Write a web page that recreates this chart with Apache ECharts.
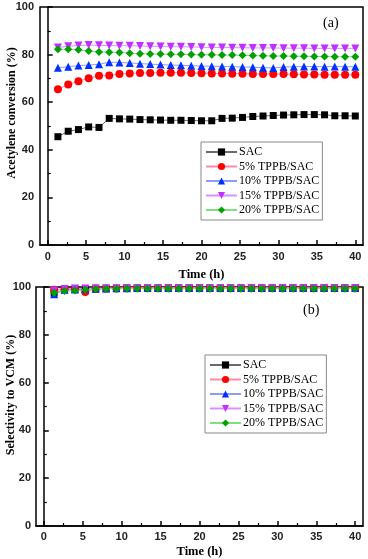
<!DOCTYPE html>
<html><head><meta charset="utf-8">
<script src="https://cdn.jsdelivr.net/npm/echarts@6/dist/echarts.min.js"></script>
<style>html,body{margin:0;padding:0;background:#fff}#c{width:368px;height:559px}</style>
</head><body><div id="c"></div>
<script>
const times = [1.33,2.67,4,5.33,6.67,8,9.33,10.67,12,13.33,14.67,16,17.33,18.67,20,21.33,22.67,24,25.33,26.67,28,29.33,30.67,32,33.33,34.67,36,37.33,38.67,40];
const seriesNames = ['SAC','5% TPPB/SAC','10% TPPB/SAC','15% TPPB/SAC','20% TPPB/SAC'];
// (a) Acetylene conversion (%)
const convSAC = [45.5,47.8,48.5,49.6,49.4,53.2,53.0,52.9,52.7,52.6,52.5,52.4,52.4,52.3,52.2,52.2,53.2,53.3,53.6,54.0,54.2,54.4,54.6,54.7,54.8,54.8,54.7,54.3,54.3,54.2];
const conv5 = [65.4,67.4,68.8,70.1,71.1,71.2,71.8,72.1,72.3,72.3,72.4,72.4,72.4,72.3,72.2,72.1,72.1,72.0,72.0,71.9,71.9,71.8,71.8,71.7,71.6,71.6,71.5,71.5,71.5,71.5];
const conv10 = [74.5,74.9,75.4,75.6,75.9,76.8,76.7,76.5,76.2,76.0,75.8,75.6,75.5,75.3,75.2,75.1,75.0,74.9,74.8,74.7,74.5,74.4,74.8,74.9,75.0,75.0,74.9,75.0,74.9,74.9];
const conv15 = [83.0,83.5,83.8,84.0,83.9,83.8,83.7,83.7,83.6,83.5,83.4,83.3,83.3,83.2,83.1,83.0,83.0,82.9,82.9,82.8,82.8,82.8,82.7,82.7,82.7,82.6,82.6,82.6,82.6,82.6];
const conv20 = [82.2,82.2,82.0,81.5,81.1,81.0,80.9,80.6,80.4,80.3,80.2,80.1,80.1,80.0,79.9,79.9,79.8,79.8,79.7,79.6,79.5,79.4,79.4,79.3,79.3,79.2,79.2,79.1,79.1,79.1];
// (b) Selectivity to VCM (%)
const selSAC = [97.5,98.8,99.0,99.0,99.2,99.3,99.4,99.4,99.5,99.5,99.5,99.5,99.5,99.5,99.5,99.5,99.5,99.5,99.5,99.5,99.5,99.5,99.5,99.5,99.5,99.5,99.5,99.5,99.5,99.5];
const sel5 = [98.9,99.2,99.2,97.9,99.3,99.4,99.4,99.5,99.5,99.5,99.5,99.5,99.5,99.5,99.5,99.5,99.5,99.5,99.5,99.5,99.5,99.5,99.5,99.5,99.5,99.5,99.5,99.5,99.5,99.5];
const sel10 = [97.0,98.8,99.0,99.2,99.3,99.4,99.5,99.5,99.6,99.6,99.6,99.6,99.6,99.6,99.6,99.6,99.6,99.6,99.6,99.6,99.6,99.6,99.6,99.6,99.6,99.6,99.6,99.6,99.6,99.6];
const sel15 = [98.5,99.2,99.4,99.4,99.5,99.5,99.5,99.6,99.6,99.6,99.6,99.6,99.6,99.6,99.6,99.6,99.6,99.6,99.6,99.6,99.6,99.6,99.6,99.6,99.6,99.6,99.6,99.6,99.6,99.6];
const sel20 = [97.6,98.3,98.5,98.8,99.2,99.3,99.3,99.4,99.4,99.4,99.4,99.4,99.4,99.4,99.4,99.4,99.4,99.4,99.4,99.4,99.4,99.4,99.4,99.4,99.4,99.4,99.4,99.4,99.4,99.4];
const xTicks = [0,5,10,15,20,25,30,35,40];
const xMinorTicks = [2.5,7.5,12.5,17.5,22.5,27.5,32.5,37.5];

const markColors = ['#000000','#ff0000','#0030ff','#c030ff','#00a000'];
const lineColors = ['#6a6a6a','#ff8aa8','#8a9aff','#d890ff','#80e080'];
const symbols = ['rect','circle','triangle','path://M0,0 L10,0 L5,9 Z','diamond'];
const symSizes = [7,8,8,8,8];

const chart = echarts.init(document.getElementById('c'), null, {renderer:'canvas'});
const tickFont = {fontFamily:'Liberation Sans', fontWeight:'bold', fontSize:11, color:'#222'};
const titleFont = {fontFamily:'Liberation Serif', fontWeight:'bold', fontSize:12.5, color:'#000'};

function xAxis(gi, gap, margin){
  return {type:'value', gridIndex:gi, min:-1, max:41,
    name:'Time (h)', nameLocation:'middle', nameGap:gap, nameTextStyle:titleFont,
    axisLine:{show:true, onZero:false, lineStyle:{color:'#000', width:1.5}},
    axisTick:{show:true, inside:true, length:5, customValues:xTicks, lineStyle:{color:'#000', width:1.5}},
    axisLabel:Object.assign({margin:margin, customValues: xTicks}, tickFont),
    splitLine:{show:false}};
}
function xMinor(gi){
  return {type:'value', gridIndex:gi, min:-1, max:41, position:'bottom',
    axisLine:{show:false},
    axisTick:{show:true, inside:true, length:3, customValues:xMinorTicks, lineStyle:{color:'#000', width:1.2}},
    axisLabel:{show:false}, splitLine:{show:false}};
}
function yAxis(gi, margin){
  return {type:'value', gridIndex:gi, min:0, max:100, interval:20,
    axisLine:{show:true, lineStyle:{color:'#000', width:1.5}},
    axisTick:{show:true, inside:true, length:5, lineStyle:{color:'#000', width:1.5}},
    minorTick:{show:true, splitNumber:2, length:3, lineStyle:{color:'#000', width:1.2}},
    axisLabel:Object.assign({margin:margin}, tickFont),
    splitLine:{show:false}};
}
function mk(name, data, i, gi){
  return {name:name, type:'line', xAxisIndex:gi*2, yAxisIndex:gi,
    data: times.map((t,j)=>[t, data[j]]),
    symbol: symbols[i], symbolSize: symSizes[i],
    itemStyle:{color:markColors[i]}, lineStyle:{color:lineColors[i], width:1},
    showSymbol:true, animation:false, z: 2 + (i===4?1:0)};
}
const convData = [convSAC, conv5, conv10, conv15, conv20];
const selData = [selSAC, sel5, sel10, sel15, sel20];
const series = [];
seriesNames.forEach((n,i)=>series.push(mk(n, convData[i], i, 0)));
seriesNames.forEach((n,i)=>series.push(mk(n, selData[i], i, 1)));

function legend(left, top){
  return {orient:'vertical', left:left, top:top, itemWidth:31, itemHeight:9, itemGap:2.5,
    padding:[4,3,4,4], borderColor:'#888', borderWidth:1,
    textStyle:{fontFamily:'Liberation Serif', fontSize:12, lineHeight:12, color:'#000', padding:[0,0,0,-3]},
    data: seriesNames.map(n=>({name:n})) };
}
chart.setOption({
  animation:false,
  backgroundColor:'#fff',
  grid:[
    {left:40, top:7, right:5, height:238, show:true, borderColor:'#000', borderWidth:1.5},
    {left:36, top:287, right:5, height:241, show:true, borderColor:'#000', borderWidth:1.5}
  ],
  xAxis:[xAxis(0, 23, 6), xMinor(0), xAxis(1, 19, 5), xMinor(1)],
  yAxis:[yAxis(0,6), yAxis(1,5)],
  legend:[legend(201,142), legend(205,355)],
  series: series,
  graphic:[
    {type:'text', left:323, top:16, style:{text:'(a)', font:'14px "Liberation Serif"', fill:'#000'}},
    {type:'text', left:303, top:303, style:{text:'(b)', font:'14px "Liberation Serif"', fill:'#000'}},
    {type:'text', x:12, y:113, rotation:Math.PI/2, style:{text:'Acetylene conversion (%)', font:'bold 12px "Liberation Serif"', fill:'#000', align:'center', verticalAlign:'middle'}},
    {type:'text', x:11, y:395, rotation:Math.PI/2, style:{text:'Selectivity to VCM (%)', font:'bold 12px "Liberation Serif"', fill:'#000', align:'center', verticalAlign:'middle'}}
  ]
});
</script></body></html>
